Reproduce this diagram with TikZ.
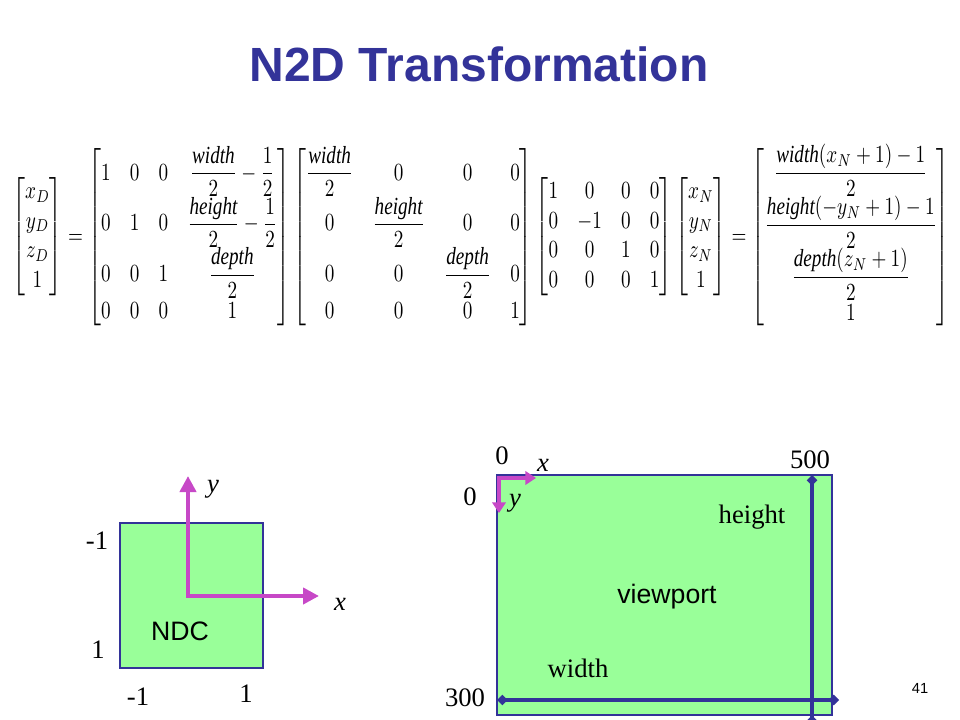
\documentclass[tikz,border=0pt]{standalone}
\usepackage{amsmath}
\usepackage{graphicx}
\usepackage{fontspec}
\setmainfont{Liberation Serif}
\newfontfamily\arialfont{Liberation Sans}
\usetikzlibrary{positioning,arrows.meta}
\definecolor{titleblue}{RGB}{51,51,153}
\definecolor{boxgreen}{RGB}{153,255,153}
\definecolor{axispink}{RGB}{199,72,199}
\tikzset{box node/.style={rectangle,draw=titleblue,fill=boxgreen,line width=1.5pt,inner sep=0pt},
  num node/.style={font=\fontsize{20}{22}\selectfont,inner sep=0pt},
  sans node/.style={font=\arialfont\fontsize{20}{22}\selectfont,inner sep=0pt},
  axis/.style={draw=axispink,line width=3pt,-{Triangle[length=12pt,width=12pt]}},
  small axis/.style={draw=axispink,line width=3pt,-{Triangle[length=8pt,width=10pt]}},
  dim line/.style={draw=titleblue,line width=3pt,{Diamond[length=8pt,width=8pt]}-{Diamond[length=8pt,width=8pt]}} }

\begin{document}
\begin{tikzpicture}[x=0.75pt,y=-0.75pt]
  \useasboundingbox[fill=white] (0,0) rectangle (960,720);

  \node[font=\arialfont\bfseries\fontsize{36}{40}\selectfont,text=titleblue] (title) at (479,64) {N2D Transformation};

  % the equation
  \node[inner sep=0pt] (eq) at (481,237) {\resizebox*{703pt}{139pt}{$\displaystyle
    \begin{bmatrix} x_D\\ y_D\\ z_D\\ 1\end{bmatrix}
    =
    \begin{bmatrix} 1&0&0&\dfrac{\mathit{width}}{2}-\dfrac12\\ 0&1&0&\dfrac{\mathit{height}}{2}-\dfrac12\\ 0&0&1&\dfrac{\mathit{depth}}{2}\\ 0&0&0&1\end{bmatrix}
    \begin{bmatrix} \dfrac{\mathit{width}}{2}&0&0&0\\ 0&\dfrac{\mathit{height}}{2}&0&0\\ 0&0&\dfrac{\mathit{depth}}{2}&0\\ 0&0&0&1\end{bmatrix}
    \begin{bmatrix}1&0&0&0\\0&-1&0&0\\0&0&1&0\\0&0&0&1\end{bmatrix}
    \begin{bmatrix}x_N\\y_N\\z_N\\1\end{bmatrix}
    =
    \begin{bmatrix}\dfrac{\mathit{width}(x_N+1)-1}{2}\\ \dfrac{\mathit{height}(-y_N+1)-1}{2}\\ \dfrac{\mathit{depth}(z_N+1)}{2}\\ 1\end{bmatrix}$}};

  % NDC square
  \node[box node,minimum width=107.25pt,minimum height=108.75pt] (ndc) at (191.5,595.5) {};
  \coordinate (o) at (188,596);
  \coordinate (ytip) at (188,476);
  \coordinate (xtip) at (319,596);
  \draw[axis,{Triangle[length=12pt,width=12pt]}-{Triangle[length=12pt,width=12pt]}] (ytip) -- (o) -- (xtip);
  \node[sans node] (ndctext) at (180,631) {NDC};
  \node[num node] (ylab) at (213,489) {\textit{y}};
  \node[num node] (xlab) at (340,604) {\textit{x}};
  \node[num node] (top) at (97,541) {-1};
  \node[num node] (bottom) at (98,650) {1};
  \node[num node] (left) at (138,697) {-1};
  \node[num node] (right) at (246,694) {1};

  % viewport
  \node[box node,minimum width=251.25pt,minimum height=180pt] (vp) at (664.5,595) {};
  \coordinate (vo) at (499,478);
  \coordinate (vx) at (536,478);
  \coordinate (vy) at (499,513);
  \draw[small axis,{Triangle[length=8pt,width=10pt]}-{Triangle[length=8pt,width=10pt]}] (vy) -- (vo) -- (vx);
  \coordinate (h1) at (497,700);
  \coordinate (h2) at (839,700);
  \coordinate (v1) at (812,475);
  \coordinate (v2) at (812,726);
  \path (h1) edge[dim line] (h2)
        (v1) edge[dim line] (v2);
  \node[num node] (x0) at (502,456) {0};
  \node[num node] (xl) at (543,465) {\textit{x}};
  \node[num node] (y0) at (470,497) {0};
  \node[num node] (yl) at (515,503) {\textit{y}};
  \node[num node] (xmax) at (810,460) {500};
  \node[num node] (ymax) at (465,698) {300};
  \node[num node] (hlab) at (752,517) {height};
  \node[num node] (wlab) at (578,668) {width};
  \node[sans node] (vptext) at (667,597) {viewport};

  \node[font=\arialfont\fontsize{11}{12}\selectfont] (page) at (920,688) {41};
\end{tikzpicture}
\end{document}
